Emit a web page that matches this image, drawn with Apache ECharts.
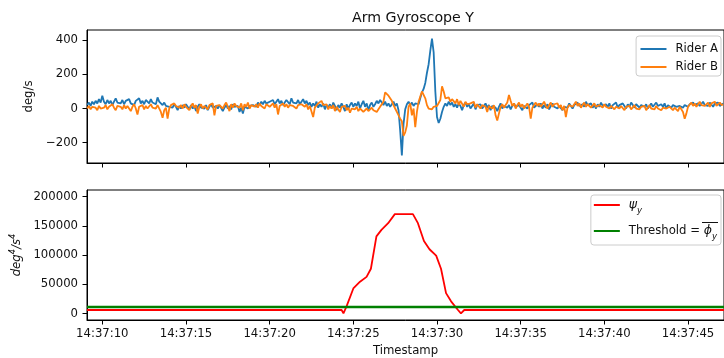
<!DOCTYPE html>
<html><head><meta charset="utf-8">
<script src="https://cdn.jsdelivr.net/npm/echarts@6/dist/echarts.min.js"></script>
<style>html,body{margin:0;padding:0;background:#fff}#c{width:724px;height:358px}</style>
</head><body><div id="c"></div>
<script>
const chartTitle = 'Arm Gyroscope Y';
// seconds after 14:37:00
const sampleStart = 9.1;
const sampleStep = 0.1;
const riderA = [
 20, 35, 15, 40, 25, 45, 30, 55, 35, 75,
 40, 25, 50, 30, 45, 20, 40, 60, 35, 45,
 30, 50, 25, 45, 35, 55, 30, 40, 20, 45,
 35, 60, 30, 45, 25, 50, 40, 30, 55, 35,
 45, 25, 65, 40, 30, 20, 35, 15, 25, 10,
 20, 5, 25, 10, -10, 15, 0, 20, 5, 25,
 10, -5, 20, 0, 15, -15, 10, 25, 5, 15,
 0, 20, -10, 10, 25, 5, -5, 15, 0, 20,
 10, -15, 5, 20, 0, 15, -5, 25, 10, 0,
 15, -20, 5, -30, 10, 20, 0, 15, 5, 20,
 25, 10, 35, 20, 40, 25, 45, 30, 20, 40,
 30, 50, 25, 40, 55, 30, 45, 20, 35, 50,
 40, 25, 60, 35, 45, 30, 50, 25, 40, 55,
 30, 45, 20, 35, 10, 30, 15, 40, 5, 25,
 10, 30, -5, 20, 5, 25, 0, 35, 15, -10,
 20, 5, 30, 10, -15, 25, 0, 20, 35, 10,
 30, 15, 40, 0, 25, 45, 10, 30, -10, 20,
 35, 10, 25, 45, 30, 50, 60, 20, 40, 15,
 30, 10, 25, 40, 15, 30, -10, -130, -275, -90,
 -5, 25, 40, 20, 35, 15, 30, 40, 25, 60,
 95, 115, 150, 210, 260, 340, 410, 330, 100, -50,
 -85, -60, -20, 10, 30, 15, 40, 20, 35, 10,
 25, 5, 30, 15, -10, 20, 35, 10, 25, 0,
 15, 30, -5, 20, 10, 25, 0, 15, 30, 5,
 20, -10, 15, 25, 5, -15, 10, 30, 0, 15,
 25, 5, 20, -5, 15, 30, 10, 0, 20, 5,
 -10, 15, 25, 0, 20, 10, 35, 5, 15, 25,
 10, 30, 0, 20, 5, 25, -5, 15, 30, 10,
 20, 0, 15, 25, -10, 10, 20, 5, 30, 15,
 0, 20, 10, 35, 15, 5, 25, 10, 40, 20,
 15, 30, 5, 20, 0, 25, 10, 35, 15, 5,
 25, 10, 30, 0, 20, 15, 35, 5, 20, 10,
 30, 15, 0, 25, 10, 35, 20, 5, 25, 15,
 5, 20, 30, 10, 25, 0, 15, 30, 10, 20,
 35, 15, 5, 25, 10, 30, 0, 20, 15, 5,
 20, 30, 10, 0, 15, 25, 5, 20, 30, 10,
 25, 15, 35, 20, 10, 30, 15, 25, 40, 20,
 30, 15, 35, 25, 10, 30, 20, 35, 15, 25,
 30
];
const riderB = [
 0, 15, -5, 10, 20, 5, -10, 15, 0, 10,
 5, 20, -5, 10, 0, 25, 5, -10, 15, 5,
 10, -5, 20, 0, 15, 5, -15, 10, 25, 0,
 -35, 10, 5, 20, -5, 15, 0, 10, 25, 5,
 15, 0, 20, 10, -20, -55, -10, 5, -60, 0,
 20, 10, 30, 15, 25, 5, 20, 0, 25, 10,
 20, -10, 15, 30, 5, 20, -30, 10, 25, 0,
 15, 25, -5, 20, 10, 30, -40, 15, 5, 20,
 25, 0, 20, 35, 10, -15, 25, 5, 30, 15,
 20, 5, 30, -10, 25, 10, 35, 0, 20, 30,
 10, 25, 5, 30, 15, 20, 0, 25, 35, 10,
 20, 30, 5, 25, -35, 15, 20, 30, 10, 25,
 5, 20, 30, 15, 25, 0, 20, 10, 25, 15,
 10, 25, -5, 15, 20, -50, 5, 15, 30, 40,
 45, 20, 10, 25, -5, 15, 0, 20, -15, 10,
 5, -20, 10, 0, 15, -10, 5, -25, 0, 10,
 -5, 10, -15, 0, 5, -20, -10, 0, -15, -5,
 5, -10, 0, -20, -5, 10, 0, 40, 95, 100,
 75, 60, 45, 20, 0, -20, -30, -60, -75, -160,
 -140, -100, 10, 30, -40, 0, -110, -20, 40, 70,
 100, 90, 60, 20, 0, -10, -5, 10, 5, 15,
 20, 50, 130, 100, 60, 70, 65, 40, 55, 45,
 30, 55, 20, 45, 35, 10, 40, 25, 15, 30,
 20, 40, 5, 25, 35, 0, 20, 30, 10, -20,
 15, 25, 0, 20, -40, -70, -30, 10, 25, 5,
 20, 35, 80, 45, 15, 30, 0, 20, 35, 10,
 25, 0, 15, 30, 10, -60, 5, 20, 35, 15,
 30, 10, 25, 40, 15, 0, 20, 35, 10, 25,
 15, 30, 5, 20, -10, 15, -50, 5, 20, 30,
 10, 25, 40, 15, 30, 5, 20, 35, 10, 25,
 20, 5, 15, 30, 10, 0, 20, 15, 5, 25,
 10, 20, 0, 15, 5, -5, 10, 20, 0, 15,
 5, -10, 10, 0, 15, -5, 5, 20, 0, 10,
 -5, 10, 0, 15, -10, 5, 20, 0, 10, -5,
 15, 0, 10, -10, 5, 15, 0, -5, 10, 5,
 -10, 5, 0, -15, 10, -5, -20, -60, -30, 10,
 20, 35, 15, 30, 10, 25, 40, 20, 30, 15,
 25, 35, 10, 30, 20, 40, 15, 25, 35, 20,
 25
];
const psiTimes  = [9.085, 24.3, 24.41, 24.6, 25.0, 25.4, 25.79, 26.05, 26.38, 26.68, 27.08, 27.48, 28.56, 28.86, 29.22, 29.55, 29.95, 30.24, 30.54, 30.84, 31.23, 31.43, 31.63, 47.2];
const psiValues = [6200, 6200, 500, 12800, 43000, 54500, 62800, 76700, 132000, 143000, 154500, 170000, 170000, 154500, 124000, 110000, 99000, 76700, 35000, 21000, 7000, 500, 6200, 6200];
const thresholdTimes = [9.085, 47.2];
const thresholdValues = [11200, 11200];
const xTicks = [10, 15, 20, 25, 30, 35, 40, 45];
const gyroTicks = [-200, 0, 200, 400];
const psiTicks = [0, 50000, 100000, 150000, 200000];
const xRange = [9.085, 47.15];
const gyroRange = [-320, 461];
const psiRange = [-10900, 211200];

const FONT = 'DejaVu Sans';
const TXT = '#111';
const toPairs = (vals) => vals.map((v, i) => [sampleStart + i * sampleStep, v]);
const zipPairs = (ts, vs) => ts.map((t, i) => [t, vs[i]]);
const fmtTime = (v) => '14:37:' + String(Math.round(v)).padStart(2, '0');
const fmtNum = (v) => String(v).replace('-', '\u2212');

function xAxisCfg(idx, showLabels) {
  return {
    type: 'value', gridIndex: idx, min: xRange[0], max: xRange[1],
    splitLine: { show: false },
    axisLine: { show: true, onZero: false, lineStyle: { color: '#000', width: 1 } },
    axisTick: { show: true, inside: false, length: 4.5, customValues: xTicks, lineStyle: { color: '#000', width: 1 } },
    axisLabel: { show: showLabels, customValues: xTicks, formatter: fmtTime, margin: 8,
      fontFamily: FONT, fontSize: 11.7, color: TXT },
    name: showLabels ? 'Timestamp' : '', nameLocation: 'middle', nameGap: 25,
    nameTextStyle: { fontFamily: FONT, fontSize: 11.7, color: TXT }
  };
}
function yAxisCfg(idx, range, ticks, name, nameGap, nameStyle) {
  return {
    type: 'value', gridIndex: idx, min: range[0], max: range[1],
    splitLine: { show: false },
    axisLine: { show: true, onZero: false, lineStyle: { color: '#000', width: 1 } },
    axisTick: { show: true, inside: false, length: 4.5, customValues: ticks, lineStyle: { color: '#000', width: 1 } },
    axisLabel: { customValues: ticks, formatter: fmtNum, margin: 9,
      fontFamily: FONT, fontSize: 11.7, color: TXT },
    name: name, nameLocation: 'middle', nameGap: nameGap, nameRotate: 90,
    nameTextStyle: nameStyle
  };
}

const chart = echarts.init(document.getElementById('c'), null, { renderer: 'canvas' });
chart.setOption({
  animation: false,
  backgroundColor: '#fff',
  title: { text: chartTitle, left: 408, top: 6, textAlign: 'center',
    textStyle: { fontFamily: FONT, fontSize: 14.2, fontWeight: 'normal', color: TXT } },
  grid: [
    { left: 87, top: 30, width: 641, height: 133, show: true, borderColor: '#000', borderWidth: 1, backgroundColor: 'transparent' },
    { left: 87, top: 190, width: 641, height: 132, show: true, borderColor: '#000', borderWidth: 1, backgroundColor: 'transparent' }
  ],
  xAxis: [xAxisCfg(0, false), xAxisCfg(1, true)],
  yAxis: [
    yAxisCfg(0, gyroRange, gyroTicks, 'deg/s', 42, { fontFamily: FONT, fontSize: 11.7, color: TXT }),
    yAxisCfg(1, psiRange, psiTicks, '{a|deg}{b|4}{a|/s}{b|4}', 60, {
      fontFamily: FONT, fontSize: 11.7, color: TXT,
      rich: {
        a: { fontFamily: FONT, fontSize: 11.7, fontStyle: 'italic', color: TXT, lineHeight: 16 },
        b: { fontFamily: FONT, fontSize: 8.3, fontStyle: 'italic', color: TXT, verticalAlign: 'top', lineHeight: 16 }
      }
    })
  ],
  legend: [
    {
      data: ['Rider A', 'Rider B'], orient: 'vertical', right: 3, top: 36,
      padding: [6, 3, 2, 4.4], itemGap: 4, itemWidth: 26, itemHeight: 2, icon: 'rect',
      backgroundColor: 'rgba(255,255,255,0.8)', borderColor: '#cccccc', borderWidth: 1, borderRadius: 3,
      textStyle: { fontFamily: FONT, fontSize: 11.7, color: TXT, lineHeight: 14, padding: [0, 0, 0, 4] }
    },
    {
      data: ['psi', 'threshold'], orient: 'vertical', right: 3, top: 195,
      padding: [0, 4, 4, 3], itemGap: 6, itemWidth: 26, itemHeight: 2, icon: 'rect',
      backgroundColor: 'rgba(255,255,255,0.8)', borderColor: '#cccccc', borderWidth: 1, borderRadius: 3,
      formatter: (n) => n === 'psi' ? '{g|\u03C8}{s|y}' : 'Threshold = {g|\u03D5}{s|y}',
      textStyle: { fontFamily: FONT, fontSize: 11.7, color: TXT, lineHeight: 20, padding: [0, 0, 0, 4],
        rich: {
          g: { fontFamily: FONT, fontSize: 12.5, fontStyle: 'italic', color: TXT, lineHeight: 20 },
          s: { fontFamily: FONT, fontSize: 8.6, fontStyle: 'italic', color: TXT, verticalAlign: 'bottom', lineHeight: 15 }
        }
      }
    }
  ],
  graphic: [
    { type: 'line', shape: { x1: 702, y1: 222.5, x2: 718, y2: 222.5 }, style: { stroke: TXT, lineWidth: 1 }, z: 100 }
  ],
  series: [
    { name: 'Rider A', type: 'line', xAxisIndex: 0, yAxisIndex: 0, data: toPairs(riderA),
      showSymbol: false, symbol: 'none', lineStyle: { color: '#1f77b4', width: 1.8 }, itemStyle: { color: '#1f77b4' } },
    { name: 'Rider B', type: 'line', xAxisIndex: 0, yAxisIndex: 0, data: toPairs(riderB),
      showSymbol: false, symbol: 'none', lineStyle: { color: '#ff7f0e', width: 1.8 }, itemStyle: { color: '#ff7f0e' } },
    { name: 'psi', type: 'line', xAxisIndex: 1, yAxisIndex: 1, data: zipPairs(psiTimes, psiValues),
      showSymbol: false, symbol: 'none', lineStyle: { color: '#ff0000', width: 1.8 }, itemStyle: { color: '#ff0000' } },
    { name: 'threshold', type: 'line', xAxisIndex: 1, yAxisIndex: 1, data: zipPairs(thresholdTimes, thresholdValues),
      showSymbol: false, symbol: 'none', lineStyle: { color: '#008000', width: 2.5 }, itemStyle: { color: '#008000' } }
  ]
});
</script></body></html>
